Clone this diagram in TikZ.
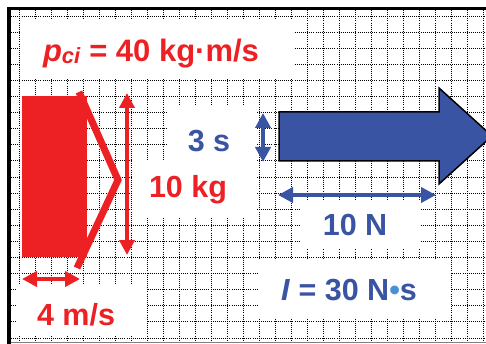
\documentclass[tikz,border=0pt]{standalone}
\usepackage{fontspec}
\setmainfont{Liberation Sans}
\usetikzlibrary{arrows.meta}
\definecolor{myred}{HTML}{ED2024}
\definecolor{myblue}{HTML}{3A54A4}
\definecolor{dotblue}{HTML}{4A90D9}
\begin{document}
\begin{tikzpicture}[x=1pt,y=-1pt,
  gridline/.style={line width=0.9pt, dash pattern=on 1pt off 1.1pt, black},
  lbl/.style={inner sep=0pt, anchor=base, font=\bfseries\fontsize{30.5}{30.5}\selectfont},
  redarrow/.style={myred, line width=4pt, {Triangle[length=15pt,width=15pt]}-{Triangle[length=15pt,width=15pt]}},
  bluearrow/.style={myblue, line width=4pt, {Triangle[length=15pt,width=15pt]}-{Triangle[length=15pt,width=15pt]}},
  whitebox/.style={fill=white}]
\useasboundingbox (0,0) rectangle (486,344);
\fill[white] (0,0) rectangle (486,344);
% grid
\begin{scope}
\clip (11,10) rectangle (486,342);
\foreach \i in {0,...,29} \draw[gridline] ({19+16*\i},10) -- ({19+16*\i},342);
\foreach \j in {0,...,20} \draw[gridline] (11,{16+16.1*\j}) -- (486,{16+16.1*\j});
\end{scope}
% white text backgrounds
\fill[whitebox] (20,20) rectangle (293,78);
\fill[whitebox] (167,107) rectangle (257,160);
\fill[whitebox] (133,160) rectangle (257,217);
\fill[whitebox] (16,284) rectangle (147,334);
\fill[whitebox] (301,200) rectangle (420,248);
\fill[whitebox] (258,259) rectangle (451,318);
% frame
\fill[black] (7,7) rectangle (486,10);
\fill[black] (7,7) rectangle (11,344);
\draw[gray, line width=1pt] (11,342.5) -- (486,342.5);
% red block and bent line
\fill[myred] (22,96) rectangle (87,257);
\coordinate (c1) at (79,92);
\coordinate (c2) at (118,180);
\coordinate (c3) at (77,268);
\draw[myred, line width=7pt, line join=miter] (c1) -- (c2) -- (c3);
% red dimension arrows
\coordinate (vt) at (127,93);
\coordinate (vb) at (127,255);
\draw[redarrow] (vt) -- (vb);
\coordinate (hl) at (22,279);
\coordinate (hr) at (80,279);
\draw[redarrow] (hl) -- (hr);
% blue block arrow
\fill[myblue, draw=black, line width=1.5pt, line join=miter]
  (279,112) -- (439,112) -- (439,88) -- (492,136) -- (439,184) -- (439,161) -- (279,161) -- cycle;
% blue dimension arrows
\coordinate (st) at (263,113);
\coordinate (sb) at (263,162);
\draw[bluearrow] (st) -- (sb);
\coordinate (nl) at (278,195);
\coordinate (nr) at (436,195);
\draw[bluearrow] (nl) -- (nr);
% labels
\node[lbl, text=myred, font=\bfseries\fontsize{31}{31}\selectfont] (pci) at (151,62)
  {\textit{p}\raisebox{-2pt}{\fontsize{22}{22}\selectfont\textit{ci}} = 40 kg·m/s};
\node[lbl, text=myblue] (t3s) at (209,152) {3 s};
\node[lbl, text=myred] (t10kg) at (188,198) {10 kg};
\node[lbl, text=myred] (t4ms) at (76,325) {4 m/s};
\node[lbl, text=myblue] (t10N) at (355,236) {10 N};
\node[lbl, text=myblue] (tI) at (349,300) {\textit{I} = 30 N{\color{dotblue}•}s};
\end{tikzpicture}
\end{document}
